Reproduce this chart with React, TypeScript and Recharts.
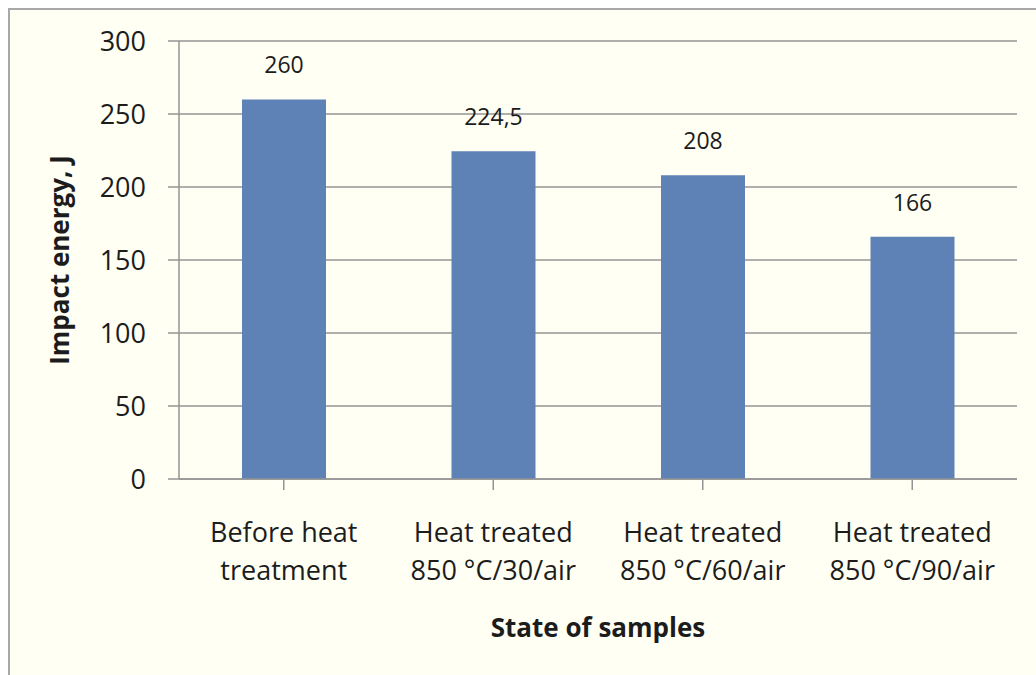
import { Bar, BarChart, CartesianGrid, LabelList, XAxis, YAxis } from "recharts";

const CATEGORIES = [
  ["Before heat", "treatment"],
  ["Heat treated", "850 °C/30/air"],
  ["Heat treated", "850 °C/60/air"],
  ["Heat treated", "850 °C/90/air"],
];
const ENERGY = [260, 224.5, 208, 166];
const Y_TICKS = [0, 50, 100, 150, 200, 250, 300];

const FONT = "'Open Sans', 'Noto Sans', sans-serif";
const INK = "#1c1c1c";
const GRID = "#959595";

const data = CATEGORIES.map((lines, i) => ({
  name: lines.join("\n"),
  energy: ENERGY[i],
}));

function CategoryTick({ x, y, payload }: any) {
  const lines = String(payload.value).split("\n");
  return (
    <text x={x} y={y} textAnchor="middle" fill={INK} fontSize={27} fontFamily={FONT}>
      {lines.map((l, i) => (
        <tspan key={i} x={x} dy={i === 0 ? 50 : 38}>
          {l}
        </tspan>
      ))}
    </text>
  );
}

export default function App() {
  return (
    <div
      style={{
        position: "fixed",
        left: 8,
        top: 8,
        width: 1028,
        height: 667,
        overflow: "hidden",
        background: "#FFFFF4",
        borderTop: "2px solid #A8A8A8",
        borderLeft: "2px solid #A8A8A8",
        boxSizing: "border-box",
      }}
    >
      <BarChart
        width={1026}
        height={665}
        data={data}
        margin={{ top: 31, right: 19, left: 0, bottom: 0 }}
      >
        <CartesianGrid vertical={false} stroke={GRID} strokeWidth={1.5} />
        <XAxis
          dataKey="name"
          height={196}
          interval={0}
          tick={<CategoryTick />}
          tickSize={11}
          axisLine={{ stroke: GRID, strokeWidth: 1.5 }}
          tickLine={{ stroke: GRID, strokeWidth: 1.5 }}
          label={{
            value: "State of samples",
            position: "insideBottom",
            offset: 38,
            fill: INK,
            fontSize: 26,
            fontWeight: 700,
            fontFamily: FONT,
          }}
        />
        <YAxis
          width={169}
          domain={[0, 300]}
          ticks={Y_TICKS}
          tickSize={11}
          tickMargin={22}
          tick={{ fill: INK, fontSize: 27, fontFamily: FONT }}
          axisLine={{ stroke: GRID, strokeWidth: 1.5 }}
          tickLine={{ stroke: GRID, strokeWidth: 1.5 }}
          label={{
            value: "Impact energy, J",
            angle: -90,
            position: "insideLeft",
            offset: 50,
            fill: INK,
            fontSize: 26,
            fontWeight: 700,
            fontFamily: FONT,
            style: { textAnchor: "middle" },
          }}
        />
        <Bar dataKey="energy" fill="#5E81B6" barSize={84} isAnimationActive={false}>
          <LabelList
            dataKey="energy"
            position="top"
            offset={26}
            fill={INK}
            fontSize={23}
            fontFamily={FONT}
            formatter={(v: any) => String(v).replace(".", ",")}
          />
        </Bar>
      </BarChart>
    </div>
  );
}
